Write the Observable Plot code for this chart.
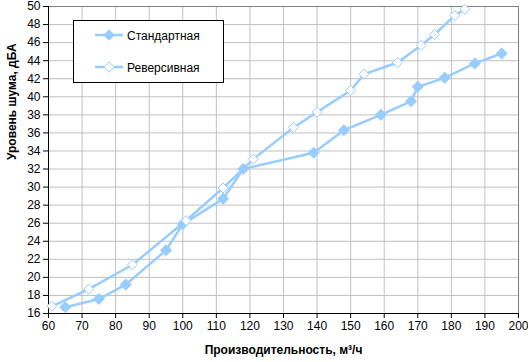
<!DOCTYPE html>
<html><head><meta charset="utf-8">
<script src="https://cdn.jsdelivr.net/npm/d3@7"></script>
<script src="https://cdn.jsdelivr.net/npm/@observablehq/plot@0.6"></script>
<style>body{margin:0;background:#fff}#c{position:relative;width:528px;height:362px}</style>
</head><body><div id="c"></div>
<script>
const seriesNames = ["Стандартная", "Реверсивная"];
const stdX = [65, 75, 83, 95, 100, 112, 118, 139, 148, 159, 168, 170, 178, 187, 195];
const stdY = [16.7, 17.6, 19.2, 23.0, 25.9, 28.7, 32.0, 33.8, 36.3, 38.0, 39.5, 41.1, 42.1, 43.7, 44.8];
const revX = [61, 72, 85, 101, 112, 121, 133, 140, 150, 154, 164, 171, 175, 181, 184];
const revY = [16.8, 18.7, 21.4, 26.3, 29.9, 33.1, 36.6, 38.3, 40.7, 42.5, 43.8, 45.7, 46.9, 49.0, 49.7];
const xTicks = [60, 70, 80, 90, 100, 110, 120, 130, 140, 150, 160, 170, 180, 190, 200];
const yTicks = [16, 18, 20, 22, 24, 26, 28, 30, 32, 34, 36, 38, 40, 42, 44, 46, 48, 50];
const xLabel = "Производительность, м³/ч";
const yLabel = "Уровень шума, дБА";

const std = stdX.map((x, i) => ({x, y: stdY[i]}));
const rev = revX.map((x, i) => ({x, y: revY[i]}));
const col = "#99ccff";

const plot = Plot.plot({
  width: 528, height: 362,
  marginLeft: 48, marginRight: 10, marginTop: 6, marginBottom: 49,
  style: {fontFamily: "'Liberation Sans', Arial, sans-serif", fontSize: "12px", background: "#fff", color: "#000"},
  x: {domain: [60, 200]},
  y: {domain: [16, 50]},
  marks: [
    Plot.gridX(xTicks, {stroke: "#c0c0c0", strokeOpacity: 1}),
    Plot.gridY(yTicks, {stroke: "#c0c0c0", strokeOpacity: 1}),
    Plot.frame({stroke: "#808080"}),
    Plot.axisX({ticks: xTicks, tickSize: 5, tickPadding: 3, label: null, fontSize: 12}),
    Plot.axisY({ticks: yTicks, tickSize: 5, tickPadding: 3, label: null, fontSize: 12}),
    Plot.ruleY([16], {stroke: "#000"}),
    Plot.ruleX([60], {stroke: "#000"}),
    Plot.line(std, {x: "x", y: "y", stroke: col, strokeWidth: 2.5}),
    Plot.line(rev, {x: "x", y: "y", stroke: col, strokeWidth: 2.5}),
    Plot.dot(std, {x: "x", y: "y", symbol: "diamond2", r: 4.5, fill: col, stroke: col}),
    Plot.dot(rev, {x: "x", y: "y", symbol: "diamond2", r: 4.5, fill: "#fff", stroke: col, strokeWidth: 1}),
    Plot.text([xLabel], {frameAnchor: "bottom", dy: 40, fontWeight: "bold", fontSize: 12}),
    Plot.text([yLabel], {frameAnchor: "left", rotate: -90, dx: -36, fontWeight: "bold", fontSize: 12})
  ]
});
document.getElementById("c").appendChild(plot);

// legend
const svg = d3.select(plot);
const g = svg.append("g").attr("text-anchor", "start");
g.append("rect").attr("x", 73.5).attr("y", 20.5).attr("width", 150).attr("height", 62)
  .attr("fill", "#fff").attr("stroke", "#000");
const diamond = d3.symbol(d3.symbolDiamond2, 70)();
seriesNames.forEach((name, i) => {
  const yy = 35 + i * 32;
  g.append("line").attr("x1", 95).attr("x2", 123).attr("y1", yy).attr("y2", yy)
    .attr("stroke", col).attr("stroke-width", 2.5);
  g.append("path").attr("d", diamond).attr("transform", `translate(109,${yy})`)
    .attr("fill", i === 0 ? col : "#fff").attr("stroke", col);
  g.append("text").attr("x", 127).attr("y", yy + 4.5).attr("text-anchor", "start").text(name)
    .attr("font-size", 12).attr("fill", "#000");
});
</script></body></html>
